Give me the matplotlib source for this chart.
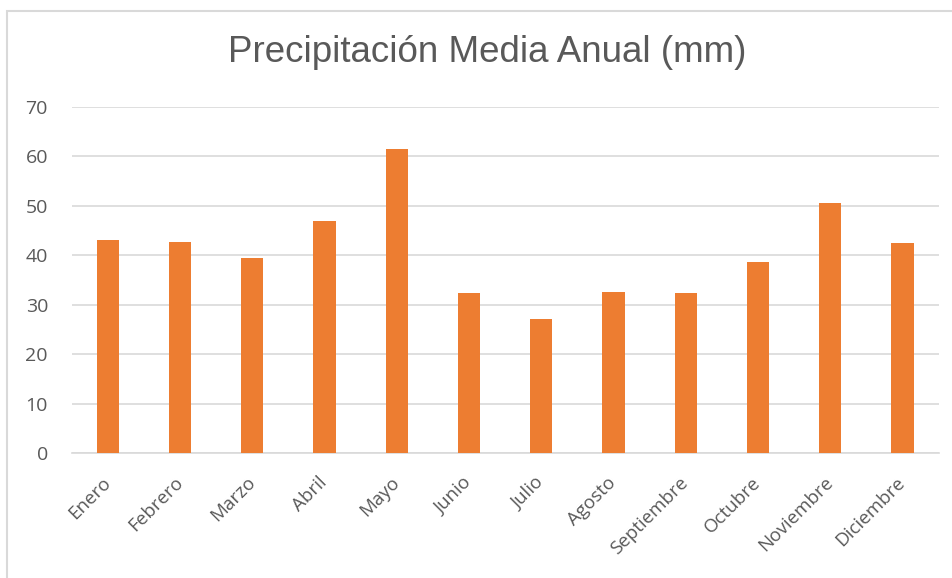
import matplotlib.pyplot as plt
import matplotlib.patches as patches
import numpy as np

meses = ['Enero', 'Febrero', 'Marzo', 'Abril', 'Mayo', 'Junio', 'Julio',
         'Agosto', 'Septiembre', 'Octubre', 'Noviembre', 'Diciembre']
precip = [43.1, 42.6, 39.4, 47.0, 61.4, 32.4, 27.1, 32.6, 32.4, 38.6, 50.5, 42.4]
yticks = [0, 10, 20, 30, 40, 50, 60, 70]

plt.rcParams['font.family'] = ['Open Sans', 'DejaVu Sans']
gris = '#595959'

fig = plt.figure(figsize=(9.52, 5.78), dpi=100)
ax = fig.add_axes([0.0752, 0.2157, 0.9108, 0.5997])

x = np.arange(len(meses))
ax.bar(x, precip, width=0.31, color='#ed7d31', zorder=3)

ax.set_xlim(-0.5, len(meses) - 0.5)
ax.set_ylim(0, 70)
ax.set_yticks(yticks)
ax.yaxis.grid(True, color='#d9d9d9', linewidth=1.2, zorder=0)
ax.set_xticks(x)
ax.set_xticklabels(meses, rotation=45, ha='right', va='center', rotation_mode='anchor')
ax.tick_params(axis='both', length=0, colors=gris)
ax.tick_params(axis='y', pad=17, labelsize=14)
ax.tick_params(axis='x', pad=19, labelsize=13.5)
for s in ['top', 'right', 'left']:
    ax.spines[s].set_visible(False)
ax.spines['bottom'].set_color('#d9d9d9')
ax.spines['bottom'].set_linewidth(1.2)

fig.text(0.512, 0.91, 'Precipitación Media Anual (mm)', ha='center', va='center',
         fontsize=26.5, color=gris, family='Liberation Sans')

# borde del grafico (solo arriba e izquierda visibles)
fig.patches.append(patches.Rectangle((0.0074, -0.05), 1.1, 1.031, transform=fig.transFigure,
                                     fill=False, edgecolor='#d9d9d9', linewidth=1.5))

plt.savefig('out.png')
plt.close()
